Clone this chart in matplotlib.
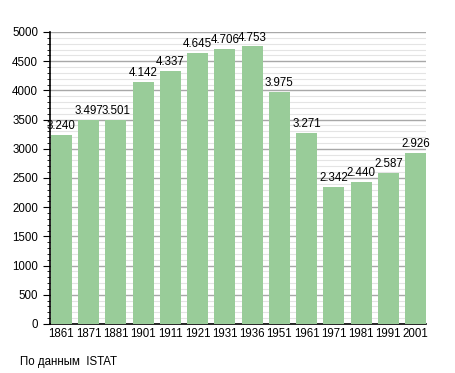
import numpy as np
import matplotlib.pyplot as plt

plt.rcParams['font.family'] = ['Liberation Sans', 'DejaVu Sans']

years = ['1861', '1871', '1881', '1901', '1911', '1921', '1931', '1936',
         '1951', '1961', '1971', '1981', '1991', '2001']
population = [3240, 3497, 3501, 4142, 4337, 4645, 4706, 4753,
              3975, 3271, 2342, 2440, 2587, 2926]
labels = ['3.240', '3.497', '3.501', '4.142', '4.337', '4.645', '4.706', '4.753',
          '3.975', '3.271', '2.342', '2.440', '2.587', '2.926']

fig = plt.figure(figsize=(4.55, 3.73), dpi=100)
ax = fig.add_axes([50/455, 49/373, 376/455, 292/373])

x = np.arange(len(years))
ax.bar(x, population, width=0.77, color='#99cc99', zorder=3)

# grid: minor every 100, major every 500
for v in range(100, 5001, 100):
    if v % 500 == 0:
        ax.axhline(v, color='#a8a8a8', lw=1.0, zorder=1)
    else:
        ax.axhline(v, color='#e4e4e4', lw=0.8, zorder=1)

for i in range(len(years)):
    ax.text(x[i], population[i] + 50, labels[i], ha='center', va='bottom',
            fontsize=8.3, zorder=4)

ax.set_xlim(-0.42, 13.38)
ax.set_ylim(0, 5000)
ax.set_xticks(x)
ax.set_xticklabels(years, fontsize=8.3)
ax.set_yticks(range(0, 5001, 500))
ax.set_yticks(range(0, 5001, 100), minor=True)
ax.tick_params(axis='y', labelsize=8.3, length=5, width=0.8)
ax.tick_params(axis='y', which='minor', length=2.5, width=0.6)
ax.tick_params(axis='x', length=0, pad=3)
for s in ['top', 'right']:
    ax.spines[s].set_visible(False)
ax.spines['left'].set_linewidth(1.2)
ax.spines['bottom'].set_linewidth(1.2)

fig.text(20/455, 1 - 362/373, 'По данным  ISTAT', fontsize=8.3, va='center')

fig.savefig('out.png', dpi=100)
